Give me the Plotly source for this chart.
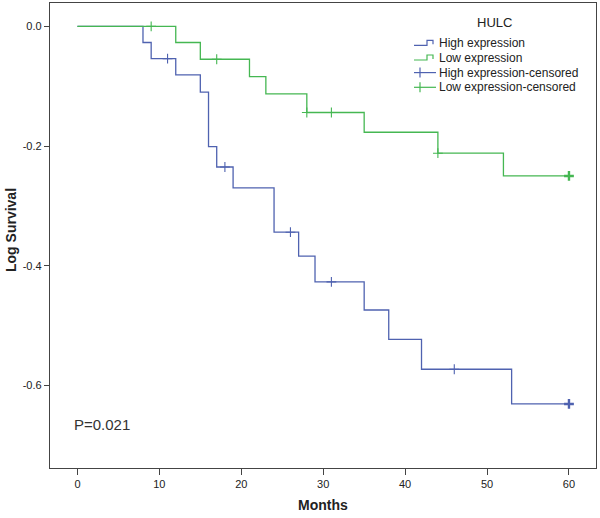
import plotly.graph_objects as go

# ---------------- data ----------------
high_times = [0, 8, 9, 12, 15, 16, 17, 19, 24, 27, 29, 35, 38, 42, 53, 60]
high_logsurv = [0.0, -0.027, -0.054, -0.081, -0.110, -0.201, -0.235, -0.270,
                -0.344, -0.384, -0.427, -0.474, -0.523, -0.573, -0.631, -0.631]
high_censored = [11, 18, 26, 31, 46, 60]

low_times = [0, 12, 15, 21, 23, 28, 35, 44, 52, 60]
low_logsurv = [0.0, -0.027, -0.055, -0.084, -0.113, -0.144, -0.177, -0.212,
               -0.250, -0.250]
low_censored = [9, 17, 28, 31, 44, 60]

x_ticks = [0, 10, 20, 30, 40, 50, 60]
y_ticks = [0.0, -0.2, -0.4, -0.6]
y_ticklabels = ["0.0", "-0.2", "-0.4", "-0.6"]

group_names = ["High expression", "Low expression"]
legend_title = "HULC"
p_text = "P=0.021"

BLUE = "#4F62B0"
GREEN = "#45B752"
AXIS = "#444444"
TXT = "#222222"
FONT = "Liberation Sans, Arial, sans-serif"


def step_value(times, vals, t):
    v = vals[0]
    for ti, vi in zip(times, vals):
        if ti <= t:
            v = vi
    return v


# ---------------- geometry ----------------
W, H = 600, 518
ML, MR, MT, MB = 50, 4, 3, 50
PW = W - ML - MR
PH = H - MT - MB


def px(x):
    return (x - ML) / PW


def py(y):
    return (H - MB - y) / PH


fig = go.Figure()

for name, times, vals, cens, col in [
    (group_names[0], high_times, high_logsurv, high_censored, BLUE),
    (group_names[1], low_times, low_logsurv, low_censored, GREEN),
]:
    fig.add_trace(go.Scatter(
        x=times, y=vals, mode="lines", line=dict(color=col, width=1.3, shape="hv"),
        name=name, showlegend=False, hoverinfo="skip"))
    cy = [step_value(times, vals, t) for t in cens]
    widths = [1.1] * (len(cens) - 1) + [2.4]
    fig.add_trace(go.Scatter(
        x=cens, y=cy, mode="markers", name=name + "-censored", showlegend=False,
        marker=dict(symbol="cross-thin", size=7, color=col,
                    line=dict(color=col, width=widths)),
        hoverinfo="skip"))

# ---------------- manual legend ----------------
shapes = []
annotations = []
annotations.append(dict(text=legend_title, x=px(494), y=py(22), xref="paper", yref="paper",
                        showarrow=False, xanchor="center", yanchor="middle",
                        font=dict(family=FONT, size=13, color=TXT)))
legend_rows = [
    (group_names[0], BLUE, "step", 43.3),
    (group_names[1], GREEN, "step", 58.0),
    (group_names[0] + "-censored", BLUE, "cross", 72.6),
    (group_names[1] + "-censored", GREEN, "cross", 87.3),
]
x0, x1 = 414, 436
for label, col, kind, yc in legend_rows:
    if kind == "step":
        path = (f"M {px(x0)},{py(yc + 2)} L {px(427)},{py(yc + 2)} L {px(427)},{py(yc - 3)} "
                f"L {px(433)},{py(yc - 3)} L {px(433)},{py(yc + 1)}")
        shapes.append(dict(type="path", path=path, xref="paper", yref="paper",
                           line=dict(color=col, width=1.2)))
    else:
        shapes.append(dict(type="line", x0=px(x0), x1=px(x1), y0=py(yc), y1=py(yc),
                           xref="paper", yref="paper", line=dict(color=col, width=1.2)))
        shapes.append(dict(type="line", x0=px(420), x1=px(420), y0=py(yc - 5), y1=py(yc + 5),
                           xref="paper", yref="paper", line=dict(color=col, width=1.2)))
    annotations.append(dict(text=label, x=px(436.5), y=py(yc), xref="paper", yref="paper",
                            showarrow=False, xanchor="left", yanchor="middle",
                            font=dict(family=FONT, size=12, color=TXT)))

# P value and axis titles
annotations.append(dict(text=p_text, x=px(72), y=py(424), xref="paper", yref="paper",
                        showarrow=False, xanchor="left", yanchor="middle",
                        font=dict(family=FONT, size=15, color="#333333")))
annotations.append(dict(text="<b>Months</b>", x=px(323), y=py(505), xref="paper", yref="paper",
                        showarrow=False, xanchor="center", yanchor="middle",
                        font=dict(family=FONT, size=14, color=TXT)))
annotations.append(dict(text="<b>Log Survival</b>", x=px(11), y=py(230), xref="paper",
                        yref="paper", showarrow=False, textangle=-90,
                        xanchor="center", yanchor="middle",
                        font=dict(family=FONT, size=14, color=TXT)))

fig.update_layout(
    width=W, height=H,
    margin=dict(l=ML, r=MR, t=MT, b=MB),
    paper_bgcolor="white", plot_bgcolor="white",
    showlegend=False,
    shapes=shapes, annotations=annotations,
    font=dict(family=FONT, size=11, color=TXT),
)
fig.update_xaxes(range=[-3.35, 63.3], tickvals=x_ticks, ticks="outside", ticklen=6,
                 tickcolor=AXIS, tickwidth=1.3, showline=True, linecolor=AXIS, linewidth=1.3,
                 mirror=True, showgrid=False, zeroline=False,
                 tickfont=dict(family=FONT, size=11, color=TXT))
fig.update_yaxes(range=[-0.738, 0.039], tickvals=y_ticks, ticktext=y_ticklabels,
                 ticks="outside", ticklen=5, tickcolor=AXIS, tickwidth=1.3,
                 showline=True, linecolor=AXIS, linewidth=1.3, mirror=True,
                 showgrid=False, zeroline=False,
                 tickfont=dict(family=FONT, size=11, color=TXT))

fig.write_html(
    "out.html",
    config={"displayModeBar": False},
    post_script="document.body.style.margin='0';document.body.style.overflow='hidden';",
)
